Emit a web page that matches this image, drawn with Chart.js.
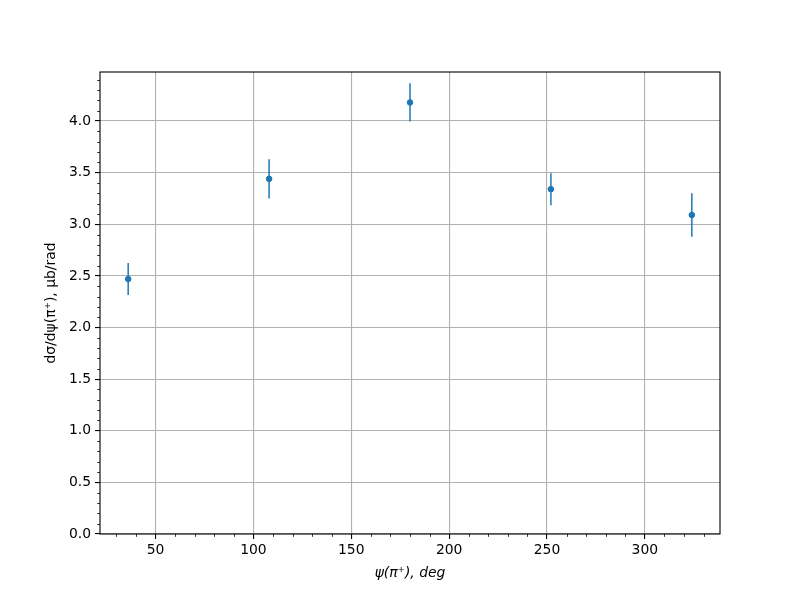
<!DOCTYPE html>
<html>
<head>
<meta charset="utf-8">
<script src="https://cdn.jsdelivr.net/npm/chart.js@4/dist/chart.umd.min.js"></script>
<style>
  body { margin: 0; background: #fff; }
</style>
</head>
<body>
<canvas id="chart" width="800" height="600"></canvas>
<script>
// data
const psiDeg = [36, 108, 180, 252, 324];
const dSigma = [2.47, 3.44, 4.18, 3.34, 3.09];
const dSigmaErr = [0.155, 0.19, 0.185, 0.155, 0.21];

const xTicks = [50, 100, 150, 200, 250, 300];
const yTicks = [0, 0.5, 1.0, 1.5, 2.0, 2.5, 3.0, 3.5, 4.0];

const blue = "#1f77b4";

// one small line dataset per error bar
const errDatasets = psiDeg.map(function(x, i) {
  return {
    type: "line",
    data: [{x: x, y: dSigma[i] - dSigmaErr[i]}, {x: x, y: dSigma[i] + dSigmaErr[i]}],
    borderColor: blue,
    borderWidth: 1.5,
    pointRadius: 0,
    fill: false
  };
});

// matplotlib-like frame + minor ticks
const framePlugin = {
  id: "frame",
  afterDraw(chart) {
    const ctx = chart.ctx;
    const a = chart.chartArea;
    const xs = chart.scales.x, ys = chart.scales.y;
    ctx.save();
    ctx.strokeStyle = "#000";
    ctx.lineWidth = 0.8;
    ctx.beginPath();
    for (let v = 30; v <= 330; v += 10) {
      if (v % 50 === 0) continue;
      const px = Math.round(xs.getPixelForValue(v)) + 0.5;
      ctx.moveTo(px, a.bottom);
      ctx.lineTo(px, a.bottom + 2.8);
    }
    for (let k = 1; k <= 44; k++) {
      if (k % 5 === 0) continue;
      const py = Math.round(ys.getPixelForValue(k / 10)) + 0.5;
      ctx.moveTo(a.left, py);
      ctx.lineTo(a.left - 2.8, py);
    }
    ctx.stroke();
    ctx.lineWidth = 1.1;
    ctx.strokeRect(a.left, a.top, a.right - a.left, a.bottom - a.top);
    ctx.restore();
  }
};

Chart.defaults.font.family = "DejaVu Sans";
Chart.defaults.color = "#000";

new Chart(document.getElementById("chart").getContext("2d"), {
  type: "scatter",
  data: {
    datasets: [{
      data: psiDeg.map(function(x, i) { return {x: x, y: dSigma[i]}; }),
      backgroundColor: blue,
      borderColor: blue,
      pointRadius: 2.8,
      pointHoverRadius: 2.8
    }].concat(errDatasets)
  },
  options: {
    responsive: false,
    animation: false,
    layout: { padding: { left: 0, top: 72, right: 80, bottom: 0 } },
    plugins: { legend: { display: false }, tooltip: { enabled: false } },
    scales: {
      x: {
        type: "linear",
        min: 21.6,
        max: 338.4,
        afterBuildTicks: function(s) { s.ticks = xTicks.map(function(v) { return {value: v}; }); },
        afterFit: function(s) { s.height = 66; },
        border: { display: false },
        grid: { color: "#b0b0b0", lineWidth: 1.1, tickColor: "#000", tickLength: 5, tickWidth: 1.1 },
        ticks: { font: { size: 13.9 }, padding: 3, maxRotation: 0 },
        title: { display: true, text: "ψ(π⁺), deg", font: { size: 13.9, style: "italic" }, padding: { top: 0, bottom: 18 } }
      },
      y: {
        min: 0,
        max: 4.475,
        afterBuildTicks: function(s) { s.ticks = yTicks.map(function(v) { return {value: v}; }); },
        afterFit: function(s) { s.width = 100; },
        border: { display: false },
        grid: { color: "#b0b0b0", lineWidth: 1.1, tickColor: "#000", tickLength: 5, tickWidth: 1.1 },
        ticks: { font: { size: 13.9 }, padding: 4, callback: function(v) { return v.toFixed(1); } },
        title: { display: true, text: "dσ/dψ(π⁺), μb/rad", font: { size: 13.9 }, padding: { top: 43, bottom: 0 } }
      }
    }
  },
  plugins: [framePlugin]
});
</script>
</body>
</html>
